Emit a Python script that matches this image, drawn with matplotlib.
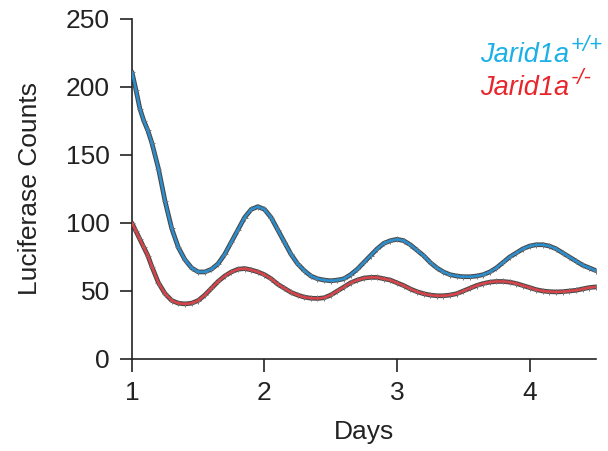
import matplotlib
matplotlib.use("Agg")
import matplotlib.pyplot as plt

plt.rcParams['font.family'] = ['Liberation Sans', 'DejaVu Sans']

days = [1.00, 1.03, 1.06, 1.09, 1.12, 1.15, 1.20, 1.25, 1.30, 1.35, 1.40, 1.45,
        1.50, 1.55, 1.60, 1.65, 1.70, 1.75, 1.80, 1.85, 1.90, 1.95, 2.00, 2.05,
        2.10, 2.15, 2.20, 2.25, 2.30, 2.35, 2.40, 2.45, 2.50, 2.55, 2.60, 2.65,
        2.70, 2.75, 2.80, 2.85, 2.90, 2.95, 3.00, 3.05, 3.10, 3.15, 3.20, 3.25,
        3.30, 3.35, 3.40, 3.45, 3.50, 3.55, 3.60, 3.65, 3.70, 3.75, 3.80, 3.85,
        3.90, 3.95, 4.00, 4.05, 4.10, 4.15, 4.20, 4.25, 4.30, 4.35, 4.40, 4.45, 4.50]

wt_counts = [211, 198, 184, 175, 168, 159, 140, 116, 96, 82, 73, 67,
             64, 64, 66, 70, 77, 86, 95, 104, 110, 112, 110, 104,
             95, 86, 77, 70, 65, 61, 59, 58, 57.5, 58, 59, 62,
             66, 71, 76, 81, 85, 87, 88, 87, 84, 80, 76, 71,
             67, 64, 62, 61, 60.5, 60.5, 61, 62, 64, 67, 71, 75,
             78, 81, 83, 84, 84, 83, 81, 78, 75, 72, 69, 67, 65]

ko_counts = [100, 94, 88, 82, 76, 68, 56, 48, 43, 41, 40.5, 41,
             43, 47, 52, 57, 61, 64, 66, 66.5, 65.5, 64, 62, 59,
             55, 52, 49, 47, 45.5, 44.7, 44.5, 45, 47, 50, 53, 56,
             58, 59.5, 60, 60, 59, 58, 56, 54, 51.5, 49.5, 48, 47,
             46.5, 46.5, 47, 48, 50, 52, 54, 55.5, 56.5, 57, 57, 56.5,
             55.5, 54, 52.5, 51, 50, 49.5, 49.3, 49.5, 50, 50.5, 51.5, 52.5, 53]

x_ticks = [1, 2, 3, 4]
y_ticks = [0, 50, 100, 150, 200, 250]

fig = plt.figure(figsize=(6.08, 4.51), dpi=100)
ax = fig.add_axes([0.217, 0.204, 0.763, 0.754])

for ys, col in [(wt_counts, '#2a8fd0'), (ko_counts, '#d9434a')]:
    ax.plot(days, ys, color='#2a2a2a', lw=3.4, alpha=0.85, solid_capstyle='round', zorder=2)
    ax.plot(days, ys, ls='none', marker='+', ms=5, mew=0.7, color='#777777', zorder=2)
    ax.plot(days, ys, color=col, lw=1.8, zorder=3)

ax.set_xlim(1, 4.5)
ax.set_ylim(0, 250)
ax.set_xticks(x_ticks)
ax.set_yticks(y_ticks)
ax.spines['top'].set_visible(False)
ax.spines['right'].set_visible(False)
for s in ['left', 'bottom']:
    ax.spines[s].set_linewidth(1.2)
    ax.spines[s].set_color('#222222')
ax.tick_params(direction='out', length=9, width=1.2, labelsize=19, colors='#222222', pad=7)
ax.set_xlabel('Days', fontsize=19, color='#222222', labelpad=11)
ax.set_ylabel('Luciferase Counts', fontsize=19, color='#222222', labelpad=17)

t1 = fig.text(480/608, 1 - 62/451, 'Jarid1a', fontsize=19.5, style='italic', color='#1bb1e6', va='baseline')
ax.annotate('+/+', xy=(1, 0), xycoords=t1, xytext=(1, 12), textcoords='offset points',
            fontsize=16, style='italic', color='#1bb1e6', va='baseline')
t2 = fig.text(480/608, 1 - 95/451, 'Jarid1a', fontsize=19.5, style='italic', color='#e8262b', va='baseline')
ax.annotate('-/-', xy=(1, 0), xycoords=t2, xytext=(1, 12), textcoords='offset points',
            fontsize=16, style='italic', color='#e8262b', va='baseline')

fig.savefig('out.png', dpi=100)
